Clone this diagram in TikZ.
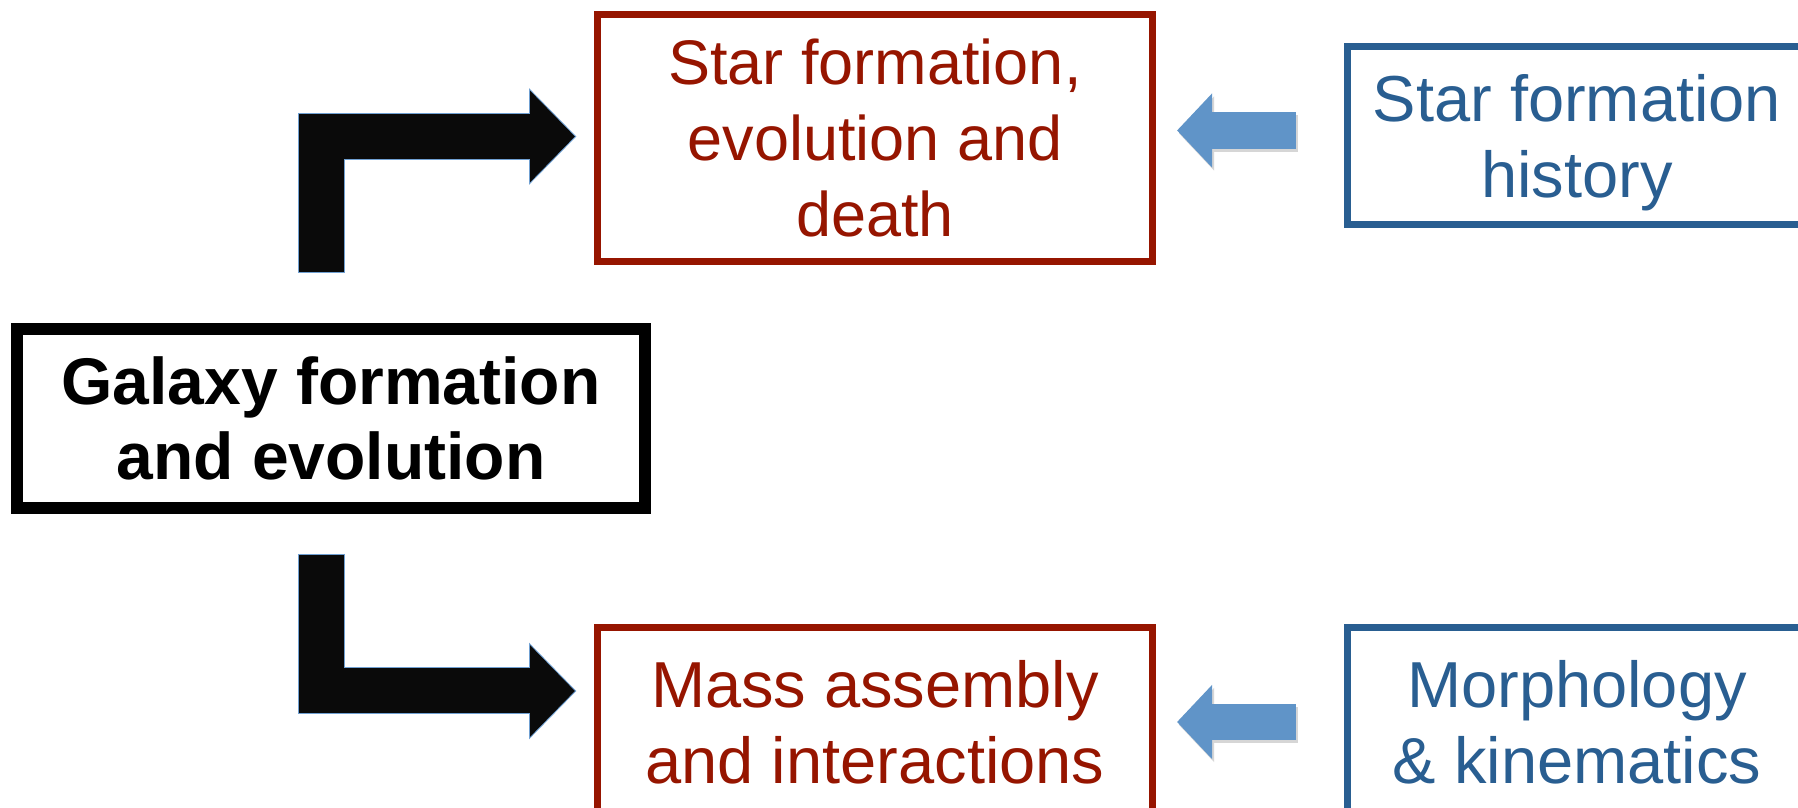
\documentclass[tikz,border=0pt]{standalone}
\usepackage{fontspec}
\setmainfont{Liberation Sans}
\usepackage{tikz}
\usetikzlibrary{arrows.meta,positioning}
\usepackage{xcolor}
\definecolor{boxred}{RGB}{150,21,0}
\definecolor{boxblue}{RGB}{41,94,145}
\definecolor{feedblue}{RGB}{96,148,200}
\definecolor{rimblue}{RGB}{112,160,210}

\tikzset{
  mainbox/.style={draw=black, line width=12pt, minimum width=627.5pt, minimum height=179pt,
    align=center, inner sep=0pt, font=\bfseries\fontsize{66}{75}\selectfont},
  topicbox/.style={draw=boxred, text=boxred, line width=7pt, minimum width=555pt,
    align=center, inner sep=0pt, font=\fontsize{65}{76}\selectfont},
  probebox/.style={draw=boxblue, text=boxblue, line width=7pt, minimum width=460pt,
    align=center, inner sep=0pt, font=\fontsize{65}{76}\selectfont},
  bentarrow/.style={draw=black!96, line width=45pt, line join=miter, -{Triangle[length=45pt,width=89pt]}},
  bentrim/.style={draw=rimblue, line width=47pt, line join=miter, -{Triangle[length=47.4pt,width=93.8pt]}},
  feedarrow/.style={draw=feedblue, line width=36.5pt, -{Triangle[length=35pt,width=72pt]}},
  feedshadow/.style={draw=black!16, line width=36.5pt, -{Triangle[length=35pt,width=72pt]}},
}

\begin{document}
\begin{tikzpicture}[x=1pt,y=1pt]
\useasboundingbox (0,0) rectangle (1798,808);
\filldraw[color=white] (0,0) rectangle (1798,808);
% Drawing boxes
\node[mainbox] (galaxy) at (331,389.5) {Galaxy formation\\and evolution};
\node[topicbox, minimum height=246.5pt, font=\fontsize{63}{76}\selectfont] (stars) at (875,670) {Star formation,\\evolution and\\death};
\node[topicbox, minimum height=189pt] (mass) at (875,86) {Mass assembly\\and interactions};
\node[probebox, minimum height=178pt, text depth=0pt] (sfh) at (1577,672.5) {Star formation\\history};
\node[probebox, minimum height=189pt] (morph) at (1577,86) {Morphology\\\& kinematics};
% Done with boxes; drawing bent arrows
\draw[bentrim] ([xshift=-9.5pt,yshift=50pt]galaxy.north) |- ([xshift=-17.6pt,yshift=1.5pt]stars.west);
\draw[bentarrow] ([xshift=-9.5pt,yshift=51pt]galaxy.north) |- ([xshift=-19pt,yshift=1.5pt]stars.west);
\draw[bentrim] ([xshift=-9.5pt,yshift=-40pt]galaxy.south) |- ([xshift=-17.6pt,yshift=31pt]mass.west);
\draw[bentarrow] ([xshift=-9.5pt,yshift=-41pt]galaxy.south) |- ([xshift=-19pt,yshift=31pt]mass.west);
% Done with bent arrows; drawing feedback arrows
\draw[feedshadow] ([xshift=-46pt,yshift=2pt]sfh.west) -- ([xshift=23pt,yshift=4.5pt]stars.east);
\draw[feedarrow] ([xshift=-48pt,yshift=5pt]sfh.west) -- ([xshift=21pt,yshift=7.5pt]stars.east);
\draw[feedshadow] ([xshift=-46pt,yshift=-3pt]morph.west) -- ([xshift=23pt,yshift=-3pt]mass.east);
\draw[feedarrow] (morph.west) ++(-48pt,0) -- ([xshift=21pt]mass.east);
% Done with arrows
\end{tikzpicture}
\end{document}
